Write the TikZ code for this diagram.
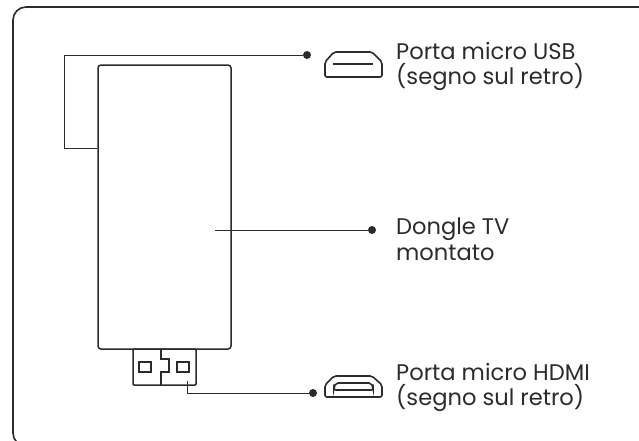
\documentclass[tikz,border=0pt]{standalone}
\usepackage{fontspec}
\setmainfont{Poppins}
\usetikzlibrary{calc}
\definecolor{lineC}{HTML}{2B2B2B}
\tikzset{
  part/.style={rectangle, draw=lineC, line width=1.5pt, inner sep=0pt},
  lead/.style={draw=lineC, line width=0.9pt},
  dotC/.style={circle, fill=lineC, inner sep=0pt, minimum size=8pt},
  lbl/.style={anchor=base west, align=left, inner sep=0pt, text=lineC, font=\fontsize{22.6}{25}\selectfont},
  icon/.style={draw=lineC, line width=1.6pt, rounded corners=2pt}
}
\begin{document}
\begin{tikzpicture}[x=1pt, y=-1pt]
  \useasboundingbox (0,0) rectangle (639,440);
  % ── Frame ──
  \begin{scope}
    \clip (0,0) rectangle (639,440);
    \draw[draw=lineC, line width=1.6pt, rounded corners=13pt] (660,7) -- (13,7) -- (13,446) -- (660,446);
  \end{scope}

  % ── Dongle ──
  \node[part, rounded corners=3pt, minimum width=133pt, minimum height=284pt] (body) at (164.5,207) {};
  \node[part, rounded corners=1pt, minimum width=63pt, minimum height=36pt] (plug) at (164.5,367) {};
  \node[part, line width=1.2pt, minimum width=12pt, minimum height=10pt] (pinL) at (145,367) {};
  \node[part, line width=1.2pt, minimum width=12pt, minimum height=10pt] (pinR) at (183,367) {};
  \draw[lead, line width=1.2pt] (161,349) -- (161,359) -- (169,359) -- (169,372) -- (161,372) -- (161,385);

  % ── Leads ──
  \node[dotC] (dotUsb) at (307,55) {};
  \node[dotC] (dotTv) at (372,230) {};
  \node[dotC] (dotHdmi) at (313,393) {};
  \coordinate (bodyBack) at (body.west |- 0,148);
  \coordinate (bodyMid) at (215,230);
  \coordinate (plugMid) at (187,381);
  \draw[lead] (dotUsb) -- (64,55) -- (64,148) -- (bodyBack);
  \draw[lead] (bodyMid) -- (dotTv);
  \draw[lead] (plugMid) |- (dotHdmi);

  % ── Icons ──
  \draw[icon] (334,52) -- (372,52) -- (382,62) -- (382,77) -- (325,77) -- (325,62) -- cycle;
  \draw[lead, line width=1.3pt] (333,64) -- (373,64);
  \draw[icon] (334,376) -- (372,376) -- (382,385) -- (382,397) -- (325,397) -- (325,385) -- cycle;
  \draw[icon] (336,383) -- (371,383) -- (373,387) -- (373,390) -- (334,390) -- (334,387) -- cycle;

  % ── Labels ──
  \node[lbl] (usbText) at (396,59) {Porta micro USB};
  \node[lbl] (usbNote) at (396,84) {(segno sul retro)};
  \node[lbl] (tvText) at (396,234) {Dongle TV};
  \node[lbl] (tvNote) at (396,260) {montato};
  \node[lbl] (hdmiText) at (396,380) {Porta micro HDMI};
  \node[lbl] (hdmiNote) at (396,405) {(segno sul retro)};
\end{tikzpicture}
\end{document}
